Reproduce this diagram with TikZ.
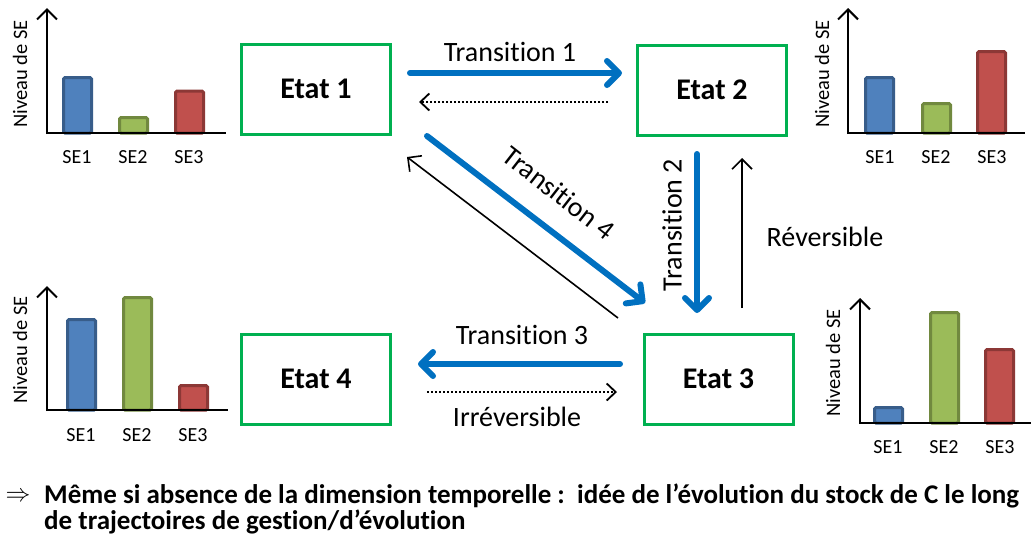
\documentclass[tikz,border=0pt]{standalone}
\usepackage{fontspec}
\setmainfont{Carlito}[Ligatures={NoCommon,NoContextual,NoRare}]
\usetikzlibrary{arrows.meta}
\definecolor{bF}{HTML}{4F81BD}\definecolor{bD}{HTML}{385D8A}
\definecolor{gF}{HTML}{9BBB59}\definecolor{gD}{HTML}{71893F}
\definecolor{rF}{HTML}{C0504D}\definecolor{rD}{HTML}{8C3836}
\definecolor{boxgreen}{HTML}{00B050}
\definecolor{tblue}{HTML}{0070C0}
\begin{document}
\begin{tikzpicture}[x=1pt,y=-1pt,
  bar/.style={line width=3pt, rounded corners=1.5pt},
  axis/.style={line width=2pt, -{Straight Barb[length=10pt,width=20pt]}},
  xaxis/.style={line width=2pt},
  se/.style={font=\fontsize{20}{24}\selectfont},
  niv/.style={font=\fontsize{20.5}{24}\selectfont, rotate=90},
  etat/.style={draw=boxgreen, line width=3pt, minimum width=149pt, minimum height=90pt, font=\bfseries\fontsize{30}{36}\selectfont},
  lbl/.style={font=\fontsize{28}{33}\selectfont, inner sep=1pt},
  trans/.style={draw=tblue, line width=6pt, line cap=round, -{Straight Barb[length=12pt,width=24pt,round]}},
  back/.style={line width=1.6pt, -{Straight Barb[length=10pt,width=20pt]}},
  dots/.style={line width=2pt, dash pattern=on 2pt off 2pt, -{Straight Barb[length=9pt,width=17pt,line width=1.8pt]}},
  foot/.style={font=\bfseries\fontsize{27}{32}\selectfont, anchor=base west, inner sep=0pt}
]
\path[use as bounding box] (0,0) rectangle (1031,542);

% ---------- top-left chart
\draw[bar, draw=bD, fill=bF] (63.5,133) rectangle (91.5,77.5);
\draw[bar, draw=gD, fill=gF] (119.5,133) rectangle (147.5,117.5);
\draw[bar, draw=rD, fill=rF] (175.5,133) rectangle (203.5,91);
\draw[axis] (47,134) -- (47,8);
\draw[xaxis] (46,133) -- (226,133);
\node[se] (tla) at (77,157) {SE1};
\node[se] (tlb) at (133,157) {SE2};
\node[se] (tlc) at (189,157) {SE3};
\node[niv] (tln) at (20,74) {Niveau de SE};

% ---------- top-right chart
\draw[bar, draw=bD, fill=bF] (865.5,133) rectangle (893.5,77.5);
\draw[bar, draw=gD, fill=gF] (922.5,133) rectangle (950.5,103.5);
\draw[bar, draw=rD, fill=rF] (977.5,133) rectangle (1005.5,51.5);
\draw[axis] (848,134) -- (848,8);
\draw[xaxis] (847,133) -- (1025,133);
\node[se] (tra) at (880,157) {SE1};
\node[se] (trb) at (936,157) {SE2};
\node[se] (trc) at (992,157) {SE3};
\node[niv] (trn) at (822,74) {Niveau de SE};

% ---------- bottom-left chart
\draw[bar, draw=bD, fill=bF] (67.5,410) rectangle (95.5,319.5);
\draw[bar, draw=gD, fill=gF] (123.5,410) rectangle (151.5,297.5);
\draw[bar, draw=rD, fill=rF] (179.5,410) rectangle (207.5,385.5);
\draw[axis] (47,411) -- (47,286);
\draw[xaxis] (46,410) -- (228,410);
\node[se] (bla) at (81,435) {SE1};
\node[se] (blb) at (137,435) {SE2};
\node[se] (blc) at (193,435) {SE3};
\node[niv] (bln) at (20,350) {Niveau de SE};

% ---------- bottom-right chart
\draw[bar, draw=bD, fill=bF] (874.5,423) rectangle (902.5,407.5);
\draw[bar, draw=gD, fill=gF] (930.5,423) rectangle (958.5,312.5);
\draw[bar, draw=rD, fill=rF] (985.5,423) rectangle (1013.5,349.5);
\draw[axis] (860,424) -- (860,298);
\draw[xaxis] (859,423) -- (1031,423);
\node[se] (bra) at (888,447) {SE1};
\node[se] (brb) at (944,447) {SE2};
\node[se] (brc) at (1000,447) {SE3};
\node[niv] (brn) at (833,363) {Niveau de SE};

% ---------- states
\node[etat] (e1) at (316,89) {Etat 1};
\node[etat] (e2) at (712,90) {Etat 2};
\node[etat] (e3) at (718.5,379) {Etat 3};
\node[etat] (e4) at (316,379) {Etat 4};

% ---------- connector ends
\coordinate (t1s) at (410,73);  \coordinate (t1e) at (622,73);
\coordinate (d1s) at (608,102); \coordinate (d1e) at (419,102);
\coordinate (t4s) at (427,136); \coordinate (t4e) at (645,303);
\coordinate (b4s) at (618,318); \coordinate (b4e) at (407,157);
\coordinate (t2s) at (697,154); \coordinate (t2e) at (697,313);
\coordinate (r2s) at (742,308); \coordinate (r2e) at (742,158);
\coordinate (t3s) at (620,364); \coordinate (t3e) at (418,364);
\coordinate (d3s) at (427,392); \coordinate (d3e) at (617,392);

\draw[trans] (t1s) -- (t1e);
\draw[dots] (d1s) -- (d1e);
\draw[trans] (t4s) -- (t4e);
\draw[back] (b4s) -- (b4e);
\draw[trans] (t2s) -- (t2e);
\draw[back] (r2s) -- (r2e);
\draw[trans] (t3s) -- (t3e);
\draw[dots] (d3s) -- (d3e);

% ---------- labels
\node[lbl] (l1) at (510,52) {Transition 1};
\node[lbl, rotate=-38] (l4) at (559,193) {Transition 4};
\node[lbl, rotate=90] (l2) at (672,225) {Transition 2};
\node[lbl] (lr) at (825,237) {Réversible};
\node[lbl] (l3) at (522,335) {Transition 3};
\node[lbl] (li) at (517,417) {Irréversible};

% ---------- footer
\node[font=\fontsize{24}{28}\selectfont] (imp) at (18,497) {$\Rightarrow$};
\node[foot] (f1) at (44,503) {Même si absence de la dimension temporelle :\ \ idée de l’évolution du stock de C le long};
\node[foot] (f2) at (44,529) {de trajectoires de gestion/d’évolution};
\end{tikzpicture}
\end{document}
